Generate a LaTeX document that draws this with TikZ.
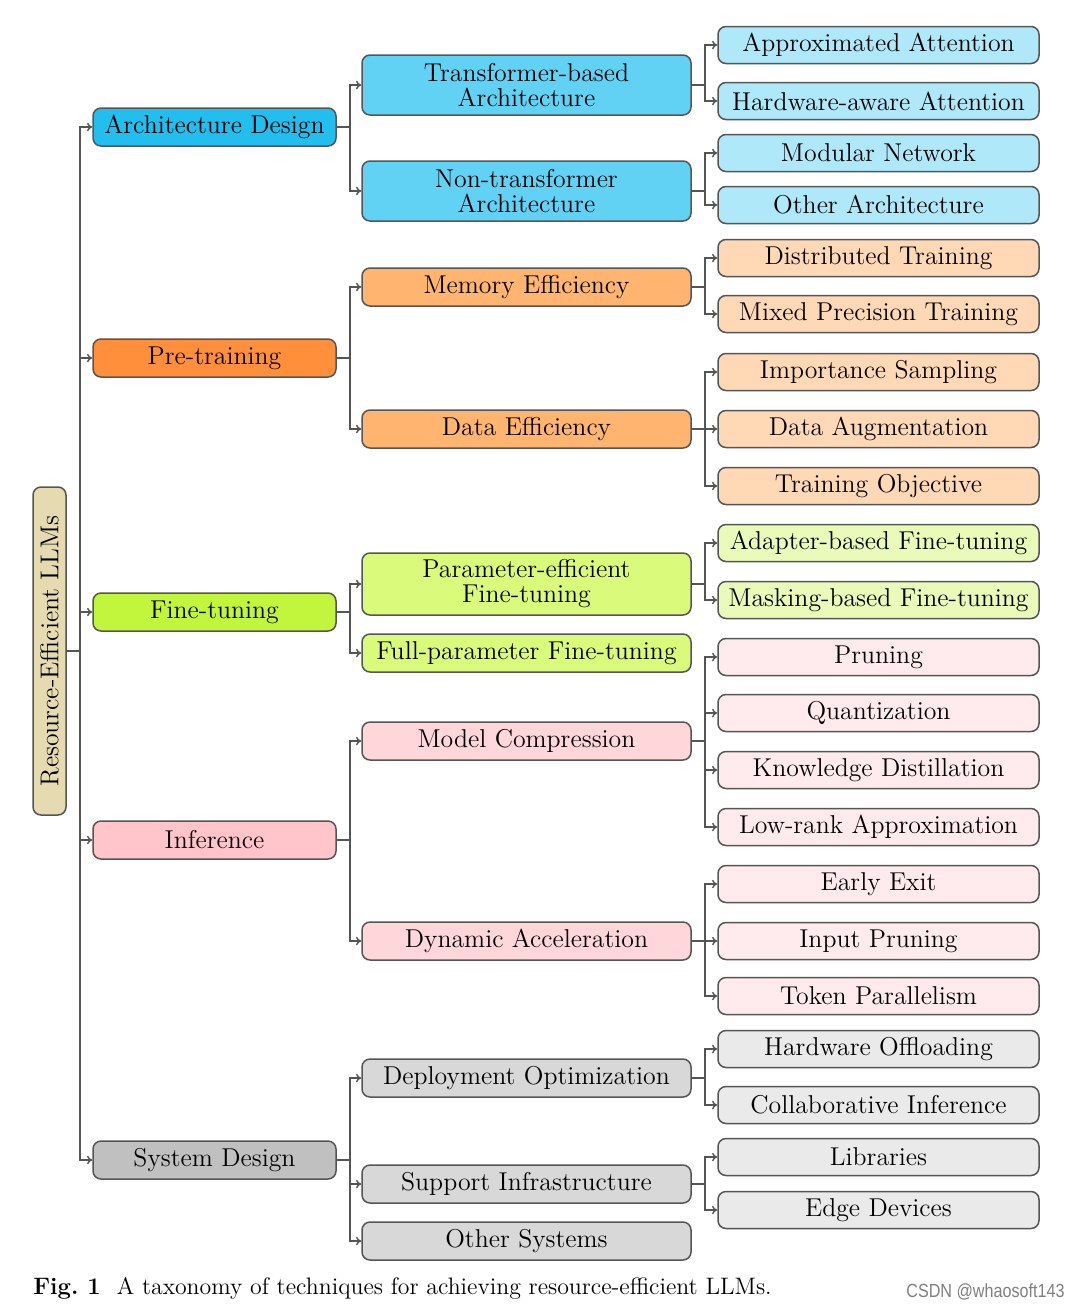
\documentclass[tikz,border=0pt]{standalone}
\usepackage{fontspec}
\usepackage{graphicx}
\usetikzlibrary{arrows.meta}
\newfontfamily\wmfont{Liberation Sans}
\definecolor{boxline}{HTML}{555555}
\definecolor{conn}{HTML}{555555}
\definecolor{rt}{HTML}{E6DBB0}
\definecolor{a1}{HTML}{22BEEE}
\definecolor{a2}{HTML}{62D2F4}
\definecolor{a3}{HTML}{AEE8F9}
\definecolor{p1}{HTML}{FF8F3A}
\definecolor{p2}{HTML}{FFB470}
\definecolor{p3}{HTML}{FFD9B6}
\definecolor{f1}{HTML}{C2F63C}
\definecolor{f2}{HTML}{DAFA7C}
\definecolor{f3}{HTML}{E9FAB9}
\definecolor{i1}{HTML}{FFC5CB}
\definecolor{i2}{HTML}{FFD7DA}
\definecolor{i3}{HTML}{FFEBED}
\definecolor{s1}{HTML}{C0C0C0}
\definecolor{s2}{HTML}{D8D8D8}
\definecolor{s3}{HTML}{EAEAEA}
\begin{document}
\begin{tikzpicture}[x=0.5pt,y=-0.5pt,
  box/.style={draw=boxline, line width=0.75pt, rounded corners=4pt, inner sep=0pt,
    align=center, font=\fontsize{12.9}{12.5}\selectfont, text=black},
  lone/.style={box, minimum width=121.5pt, minimum height=19pt},
  ltwo/.style={box, minimum width=164.5pt, minimum height=19pt},
  ltwobig/.style={ltwo, minimum height=30pt},
  lthree/.style={box, minimum width=160.5pt, minimum height=18.5pt},
  arr/.style={draw=conn, line width=0.7pt, -{To[length=2.6pt,width=4.2pt]}},
  ln/.style={draw=conn, line width=0.7pt}]
\useasboundingbox (0,0) rectangle (1080,1308);
\fill[white] (0,0) rectangle (1080,1308);

% root
\node[box, fill=rt, minimum width=16.5pt, minimum height=164pt] (root) at (49.5,651) {};
\node[rotate=90, font=\fontsize{12.9}{12.5}\selectfont] (roottxt) at (root.center) {Resource-Efficient LLMs};

% junction coordinates
\coordinate (j0) at (80,0);
\coordinate (j1) at (350,0);
\coordinate (j2) at (705,0);

% level 1
\node[lone, fill=a1] (arch) at (214.5,127) {Architecture Design};
\node[lone, fill=p1] (pre) at (214.5,358) {Pre-training};
\node[lone, fill=f1] (fine) at (214.5,612) {Fine-tuning};
\node[lone, fill=i1] (inf) at (214.5,840) {Inference};
\node[lone, fill=s1] (sys) at (214.5,1160) {System Design};

% level 2
\node[ltwobig, fill=a2] (tb) at (526.5,85) {Transformer-based\\Architecture};
\node[ltwobig, fill=a2] (nt) at (526.5,191) {Non-transformer\\Architecture};
\node[ltwo, fill=p2] (me) at (526.5,287) {Memory Efficiency};
\node[ltwo, fill=p2] (de) at (526.5,429) {Data Efficiency};
\node[ltwobig, fill=f2, minimum height=31pt] (pe) at (526.5,584) {Parameter-efficient\\Fine-tuning};
\node[ltwo, fill=f2] (fp) at (526.5,653) {Full-parameter Fine-tuning};
\node[ltwo, fill=i2] (mc) at (526.5,741) {Model Compression};
\node[ltwo, fill=i2] (da) at (526.5,941) {Dynamic Acceleration};
\node[ltwo, fill=s2] (dop) at (526.5,1078) {Deployment Optimization};
\node[ltwo, fill=s2] (si) at (526.5,1184) {Support Infrastructure};
\node[ltwo, fill=s2] (os) at (526.5,1241) {Other Systems};

% level 3
\node[lthree, fill=a3] (aa) at (878.5,45) {Approximated Attention};
\node[lthree, fill=a3] (ha) at (878.5,101) {Hardware-aware Attention};
\node[lthree, fill=a3] (mn) at (878.5,153) {Modular Network};
\node[lthree, fill=a3] (oa) at (878.5,205) {Other Architecture};
\node[lthree, fill=p3] (dt) at (878.5,258) {Distributed Training};
\node[lthree, fill=p3] (mp) at (878.5,314) {Mixed Precision Training};
\node[lthree, fill=p3] (is) at (878.5,372) {Importance Sampling};
\node[lthree, fill=p3] (dau) at (878.5,429) {Data Augmentation};
\node[lthree, fill=p3] (to) at (878.5,486) {Training Objective};
\node[lthree, fill=f3] (ab) at (878.5,543) {Adapter-based Fine-tuning};
\node[lthree, fill=f3] (mb) at (878.5,600) {Masking-based Fine-tuning};
\node[lthree, fill=i3] (pr) at (878.5,657) {Pruning};
\node[lthree, fill=i3] (qu) at (878.5,713) {Quantization};
\node[lthree, fill=i3] (kd) at (878.5,770) {Knowledge Distillation};
\node[lthree, fill=i3] (lr) at (878.5,827) {Low-rank Approximation};
\node[lthree, fill=i3] (ee) at (878.5,884) {Early Exit};
\node[lthree, fill=i3] (ip) at (878.5,941) {Input Pruning};
\node[lthree, fill=i3] (tp) at (878.5,996) {Token Parallelism};
\node[lthree, fill=s3] (ho) at (878.5,1049) {Hardware Offloading};
\node[lthree, fill=s3] (ci) at (878.5,1105) {Collaborative Inference};
\node[lthree, fill=s3] (li) at (878.5,1157) {Libraries};
\node[lthree, fill=s3] (ed) at (878.5,1210) {Edge Devices};

% connectors root -> level 1
\draw[ln] (root.east) -- (root.east -| j0);
\foreach \c in {arch,pre,fine,inf,sys}
  \draw[arr] (root.east -| j0) |- (\c.west);

% level 1 -> level 2
\foreach \p/\c in {arch/tb,arch/nt,pre/me,pre/de,fine/pe,fine/fp,inf/mc,inf/da,sys/dop,sys/si,sys/os}
  \draw[arr] (\p.east) -- (\p.east -| j1) |- (\c.west);

% level 2 -> level 3
\foreach \p/\c in {tb/aa,tb/ha,nt/mn,nt/oa,me/dt,me/mp,de/is,de/dau,de/to,pe/ab,pe/mb,mc/pr,mc/qu,mc/kd,mc/lr,da/ee,da/ip,da/tp,dop/ho,dop/ci,si/li,si/ed}
  \draw[arr] (\p.east) -- (\p.east -| j2) |- (\c.west);

% caption
\node[anchor=base west, inner sep=0pt, font=\fontsize{11.9}{11.9}\selectfont] (cap) at (33,1294)
  {\textbf{Fig.\ 1}\hspace{8pt}A taxonomy of techniques for achieving resource-efficient LLMs.};
\node[anchor=base east, inner sep=0pt, text=gray, font=\wmfont\fontsize{9.5}{9.5}\selectfont] (wm) at (1065,1297)
  {\scalebox{0.85}[1]{CSDN @whaosoft143}};
\end{tikzpicture}
\end{document}
